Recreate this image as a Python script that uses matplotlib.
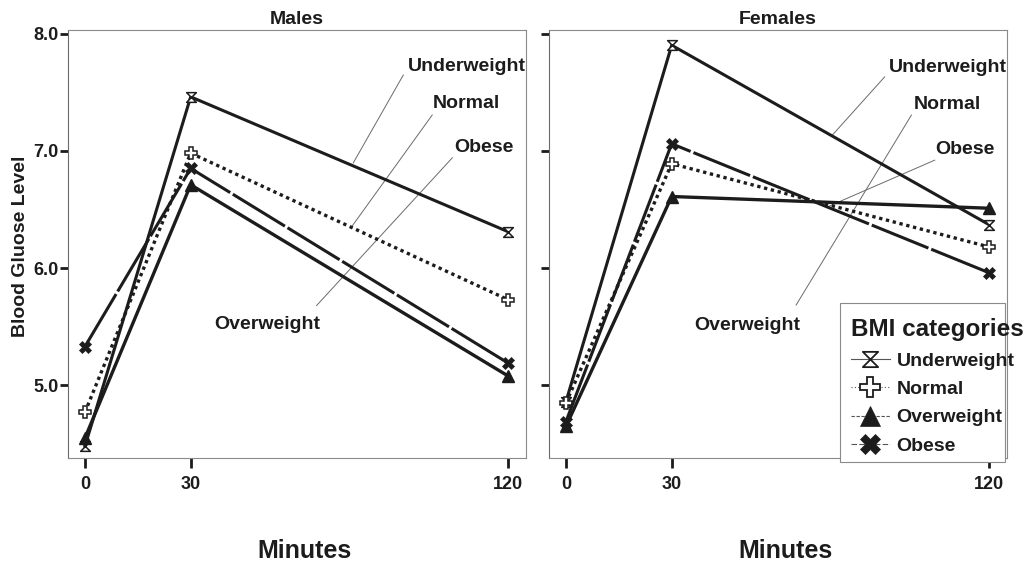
import matplotlib
matplotlib.use("Agg")
import matplotlib.pyplot as plt
from matplotlib.path import Path
from matplotlib.lines import Line2D
from matplotlib.patches import Rectangle

plt.rcParams['font.family'] = ['Liberation Sans', 'DejaVu Sans']
plt.rcParams['font.weight'] = 'bold'

# ---------------- data ----------------
minutes = [0, 30, 120]
categories = ['Underweight', 'Normal', 'Overweight', 'Obese']
males_underweight = [4.48, 7.46, 6.31]
males_normal = [4.77, 6.98, 5.73]
males_overweight = [4.55, 6.71, 5.08]
males_obese = [5.33, 6.85, 5.19]
females_underweight = [4.86, 7.90, 6.37]
females_normal = [4.85, 6.89, 6.18]
females_overweight = [4.65, 6.61, 6.51]
females_obese = [4.69, 7.06, 5.96]
yticks = [5.0, 6.0, 7.0, 8.0]
ytick_labels = ['5.0', '6.0', '7.0', '8.0']
panel_titles = ['Males', 'Females']

males = [males_underweight, males_normal, males_overweight, males_obese]
females = [females_underweight, females_normal, females_overweight, females_obese]

# ---------------- styles ----------------
hourglass = Path([(-1, 1), (1, 1), (-1, -1), (1, -1), (-1, 1)],
                 [Path.MOVETO, Path.LINETO, Path.LINETO, Path.LINETO, Path.CLOSEPOLY])
ink = '#1c1c1c'
styles = {
    'Underweight': dict(ls='-', lw=2.2, marker=hourglass, ms=7, mfc='white', mec=ink, mew=1.1),
    'Normal': dict(ls=(0, (1, 1.1)), lw=2.4, marker='P', ms=9, mfc='white', mec=ink, mew=1.1),
    'Overweight': dict(ls='-', lw=2.4, marker='^', ms=8, mfc=ink, mec=ink, mew=1.0),
    'Obese': dict(ls=(0, (20, 1.0)), lw=2.2, marker='X', ms=9, mfc=ink, mec=ink, mew=0.5),
}
legend_ls = {'Underweight': '-', 'Normal': (0, (1, 2)), 'Overweight': (0, (3, 1.5)),
             'Obese': (0, (5, 2))}
legend_ms = {'Underweight': 11, 'Normal': 14, 'Overweight': 14, 'Obese': 14}

W, H = 1027, 563
fig = plt.figure(figsize=(W / 100, H / 100), dpi=100)


def rect(l, r, t, b):
    return [l / W, 1 - b / H, (r - l) / W, (b - t) / H]


axM = fig.add_axes(rect(68, 526, 30, 458))
axF = fig.add_axes(rect(549, 1007, 30, 458))

# annotation placement (data coords): label, text x, text y, line from, line to
annot_m = [
    ('Underweight', 108.3, 7.68, (90.3, 7.646), (76.1, 6.896)),
    ('Normal', 108.1, 7.365, (98.5, 7.305), (75.6, 6.35)),
    ('Obese', 113.2, 6.99, (104.2, 6.94), (65.7, 5.68)),
    ('Overweight', 51.8, 5.48, None, None),
]
annot_f = [
    ('Underweight', 108.3, 7.67, (90.4, 7.63), (75.6, 7.135)),
    ('Normal', 108.2, 7.36, (98.0, 7.305), (65.3, 5.685)),
    ('Obese', 113.3, 6.97, (104.6, 6.92), (74.8, 6.53)),
    ('Overweight', 51.3, 5.47, None, None),
]

for ax, series, title, annots, show_labels in [
        (axM, males, panel_titles[0], annot_m, True),
        (axF, females, panel_titles[1], annot_f, False)]:
    for cat, vals in zip(categories, series):
        st = styles[cat]
        ax.plot(minutes, vals, color=ink, linestyle=st['ls'], linewidth=st['lw'],
                marker=st['marker'], markersize=st['ms'], markerfacecolor=st['mfc'],
                markeredgecolor=st['mec'], markeredgewidth=st['mew'], clip_on=False, zorder=3)
    for lab, tx, ty, p1, p2 in annots:
        ax.text(tx, ty, lab, ha='center', va='baseline', fontsize=14, fontweight='bold',
                color=ink, clip_on=False, zorder=4)
        if p1 is not None:
            ax.plot([p1[0], p2[0]], [p1[1], p2[1]], color='#6a6a6a', lw=0.7, zorder=2)
    ax.set_xlim(-4.8, 125.1)
    ax.set_ylim(4.38, 8.03)
    ax.set_xticks(minutes)
    ax.set_xticklabels([str(m) for m in minutes], fontsize=13, fontweight='bold', color=ink)
    ax.set_yticks(yticks)
    if show_labels:
        ax.set_yticklabels(ytick_labels, fontsize=13, fontweight='bold', color=ink)
    else:
        ax.set_yticklabels([])
    ax.tick_params(axis='y', direction='out', length=5.5, width=2.0, color=ink, pad=1.5)
    ax.tick_params(axis='x', direction='out', length=7, width=2.0, color=ink, pad=6)
    for s in ax.spines.values():
        s.set_color('#8a8a8a')
        s.set_linewidth(0.8)
    ax.spines['left'].set_color('#6a6a6a')
    ax.set_title(title, fontsize=14, fontweight='bold', color=ink, pad=4)
    ax.set_xlabel('Minutes', fontsize=18, fontweight='bold', color=ink)
    ax.xaxis.set_label_coords(0.517, -0.19)
    ax.xaxis.label.set_va('top')

axM.set_ylabel('Blood Gluose Level', fontsize=14, fontweight='bold', color=ink)
axM.yaxis.set_label_coords(-0.085, 0.495)

# legend
handles = []
for cat in categories:
    st = styles[cat]
    handles.append(Line2D([], [], color='#555555', linestyle=legend_ls[cat], linewidth=0.8,
                          marker=st['marker'], markersize=legend_ms[cat],
                          markerfacecolor=st['mfc'], markeredgecolor=ink,
                          markeredgewidth=1.3 if cat in ('Underweight', 'Normal') else 0.5))
fig.add_artist(Rectangle((840 / W, 1 - 462 / H), (1005 - 840) / W, (462 - 303) / H,
                         transform=fig.transFigure, facecolor='white', edgecolor='#8a8a8a',
                         linewidth=0.8, zorder=1))
leg = fig.legend(handles, categories, loc='upper left', bbox_to_anchor=(851 / W, 1 - 318 / H),
                 frameon=False, title='BMI categories', alignment='left',
                 prop={'size': 14, 'weight': 'bold'},
                 title_fontproperties={'size': 17.5, 'weight': 'bold'},
                 handlelength=2.0, handletextpad=0.35, labelspacing=0.56,
                 borderpad=0, borderaxespad=0)
for t in leg.get_texts():
    t.set_color(ink)
leg.get_title().set_color(ink)
leg.set_zorder(5)

fig.savefig('out.png', dpi=100)
